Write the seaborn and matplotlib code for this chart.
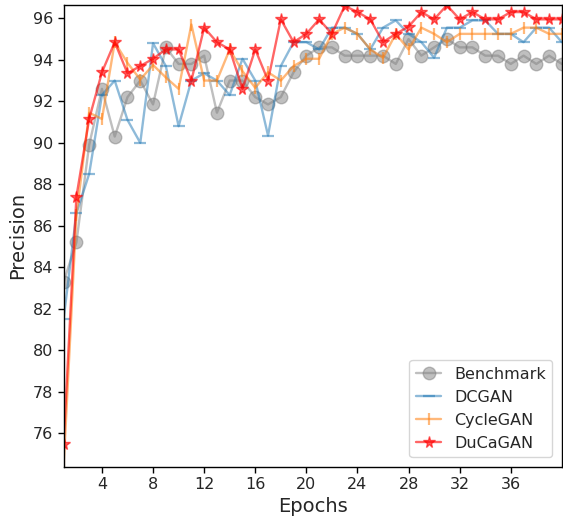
import matplotlib
matplotlib.use("Agg")
import matplotlib.pyplot as plt
import seaborn as sns

epochs = list(range(1, 41))

benchmark = [83.3, 85.2, 89.9, 92.6, 90.3, 92.2, 93.0, 91.85, 94.6, 93.8,
             93.8, 94.2, 91.45, 93.0, 93.0, 92.2, 91.85, 92.2, 93.4, 94.2,
             94.6, 94.6, 94.2, 94.2, 94.2, 94.2, 93.8, 95.0, 94.2, 94.6,
             95.0, 94.6, 94.6, 94.2, 94.2, 93.8, 94.2, 93.8, 94.2, 93.8]

dcgan = [81.5, 86.6, 88.5, 92.3, 93.0, 91.1, 90.0, 94.8, 93.7, 90.8,
         93.0, 93.35, 93.0, 92.3, 94.05, 93.0, 90.35, 93.7, 94.85, 94.85,
         94.5, 95.55, 95.55, 95.25, 94.5, 95.55, 95.9, 95.25, 94.85, 94.1,
         95.55, 95.55, 95.9, 95.9, 95.25, 95.25, 94.85, 95.55, 95.55, 94.85]

cyclegan = [74.4, 86.5, 91.45, 91.15, 94.85, 93.85, 93.05, 93.75, 93.15, 92.6,
            95.7, 93.0, 93.0, 94.5, 93.45, 92.65, 93.4, 93.0, 93.7, 94.05,
            94.05, 95.25, 95.55, 95.25, 94.5, 94.1, 95.25, 94.5, 95.55, 95.25,
            94.85, 95.25, 95.25, 95.25, 95.25, 95.25, 95.55, 95.55, 95.25, 95.25]

ducagan = [75.5, 87.4, 91.15, 93.4, 94.85, 93.35, 93.7, 94.05, 94.5, 94.5,
           93.0, 95.55, 94.85, 94.5, 92.6, 94.5, 93.0, 95.95, 94.85, 95.25,
           95.95, 95.25, 96.6, 96.3, 95.95, 94.85, 95.25, 95.6, 96.3, 95.95,
           96.63, 95.95, 96.3, 95.95, 95.95, 96.3, 96.3, 95.95, 95.95, 95.95]

x_ticks = [4, 8, 12, 16, 20, 24, 28, 32, 36]
y_ticks = [76, 78, 80, 82, 84, 86, 88, 90, 92, 94, 96]

sns.set_style("ticks")
plt.rcParams["font.family"] = ["DejaVu Sans"]

fig = plt.figure(figsize=(5.63, 5.23), dpi=100)
ax = fig.add_axes([0.113, 0.108, 0.885, 0.882])

series = [
    ("Benchmark", benchmark, "gray", "o", 9, 1.0, 0.5),
    ("DCGAN", dcgan, "C0", "_", 9, 1.6, 0.5),
    ("CycleGAN", cyclegan, "C1", "|", 9, 1.6, 0.55),
    ("DuCaGAN", ducagan, "red", "*", 8.5, 1.0, 0.6),
]

for name, vals, col, mk, ms, mew, a in series:
    sns.lineplot(x=epochs, y=vals, ax=ax, label=name, linewidth=1.7,
                 color=col, marker=mk, markersize=ms, markeredgewidth=mew,
                 markeredgecolor=col, markerfacecolor=col, alpha=a)

ax.set_xlim(min(epochs), max(epochs))
all_vals = benchmark + dcgan + cyclegan + ducagan
ax.set_ylim(min(all_vals), max(all_vals))
ax.set_xticks(x_ticks)
ax.set_yticks(y_ticks)
ax.tick_params(labelsize=11.5, length=4, width=1, color="black")
for s in ax.spines.values():
    s.set_color("black")
    s.set_linewidth(1.0)
ax.set_xlabel("Epochs", fontsize=14)
ax.set_ylabel("Precision", fontsize=14)
ax.legend(loc="lower right", fontsize=11.5, frameon=True, handlelength=1.6,
          borderaxespad=0.6)

fig.savefig("out.png", dpi=100)
